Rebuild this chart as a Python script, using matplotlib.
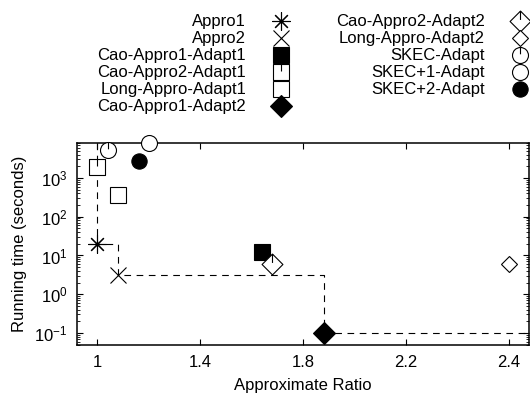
import numpy as np
import matplotlib
matplotlib.use("Agg")
import matplotlib.pyplot as plt
from matplotlib.path import Path
from matplotlib.ticker import LogLocator, NullFormatter, FixedLocator

plt.rcParams["font.family"] = ["Liberation Sans", "DejaVu Sans"]
plt.rcParams["mathtext.fontset"] = "custom"
plt.rcParams["mathtext.rm"] = "Liberation Sans"
plt.rcParams["mathtext.it"] = "Liberation Sans"
plt.rcParams["mathtext.default"] = "regular"

# ============================================================
# DATA (approximate ratio, running time in seconds)
# ============================================================
names = ["Appro1", "Appro2", "Cao-Appro1-Adapt1", "Cao-Appro2-Adapt1",
         "Long-Appro-Adapt1", "Cao-Appro1-Adapt2", "Cao-Appro2-Adapt2",
         "Long-Appro-Adapt2", "SKEC-Adapt", "SKEC+1-Adapt", "SKEC+2-Adapt"]
ratio = [1.00, 1.08, 1.64, 1.00, 1.08, 1.88, 1.68, 2.40, 1.043, 1.20, 1.163]
runtime = [20, 3.2, 12.5, 1900, 360, 0.1, 5.9, 6.2, 5300, 7900, 2750]

# pareto frontier (dashed staircase)
front_x = [1.00, 1.08, 1.88]
front_y = [20, 3.2, 0.1]

xticks = [1, 1.4, 1.8, 2.2, 2.4]

# ============================================================
# MARKERS
# ============================================================
def with_tick(base):
    v = list(base.vertices) + [(0, base.vertices[:, 1].max()), (0, 0.15 * base.vertices[:, 1].max())]
    c = list(base.codes) + [Path.MOVETO, Path.LINETO]
    return Path(v, c)

sq = Path([(-1, -1), (1, -1), (1, 1), (-1, 1), (-1, -1)],
          [Path.MOVETO, Path.LINETO, Path.LINETO, Path.LINETO, Path.CLOSEPOLY])
dm = Path([(0, -1), (1, 0), (0, 1), (-1, 0), (0, -1)],
          [Path.MOVETO, Path.LINETO, Path.LINETO, Path.LINETO, Path.CLOSEPOLY])
circ = Path.unit_circle()

styles = [
    dict(marker=(8, 2, 0), ms=13, mfc="black"),
    dict(marker="x", ms=12, mfc="black"),
    dict(marker="s", ms=11.5, mfc="black"),
    dict(marker=with_tick(sq), ms=11.5, mfc="white"),
    dict(marker="s", ms=11.5, mfc="white"),
    dict(marker="D", ms=11, mfc="black"),
    dict(marker=with_tick(dm), ms=15, mfc="white"),
    dict(marker="D", ms=8.5, mfc="white"),
    dict(marker=with_tick(circ), ms=11.5, mfc="white"),
    dict(marker="o", ms=11.5, mfc="white"),
    dict(marker="o", ms=11, mfc="black"),
]

# axis range
x_left, x_right = 0.922, 2.439
y_bottom, y_top = 0.049, 8000


def fwd(x):
    x = np.asarray(x, dtype=float)
    return np.where(x <= 2.2, x, 2.2 + (x - 2.2) * 2.0)


def inv(x):
    x = np.asarray(x, dtype=float)
    return np.where(x <= 2.2, x, 2.2 + (x - 2.2) / 2.0)


fig = plt.figure(figsize=(5.3, 3.96), dpi=100)
ax = fig.add_axes([0.1453, 0.1288, 0.8527, 0.5102])
ax.set_xscale("function", functions=(fwd, inv))
ax.set_yscale("log")

ax.plot(front_x[:1] + front_x + [x_right], [y_top] + front_y + front_y[-1:],
        drawstyle="steps-post", color="black", lw=0.8, dashes=(6, 5), zorder=1)

for n, x, y, st in zip(names, ratio, runtime, styles):
    ax.plot([x], [y], linestyle="none", marker=st["marker"], ms=st["ms"],
            mfc=st["mfc"], mec="black", mew=0.8, label=n, clip_on=False, zorder=3)

ax.set_xlim(x_left, x_right)
ax.set_ylim(y_bottom, y_top)
ax.xaxis.set_major_locator(FixedLocator(xticks))
ax.set_xticklabels([f"{t:g}" for t in xticks])
ax.yaxis.set_major_locator(LogLocator(base=10, numticks=10))
ax.yaxis.set_minor_locator(LogLocator(base=10, subs=np.arange(2, 10), numticks=10))
ax.yaxis.set_minor_formatter(NullFormatter())

ax.tick_params(which="both", direction="in", top=True, right=True, labelsize=12, color="black")
ax.tick_params(which="major", length=4.5, width=0.8, pad=7)
ax.tick_params(which="minor", length=2, width=0.6)
for s in ax.spines.values():
    s.set_linewidth(1.1)

ax.set_xlabel("Approximate Ratio", fontsize=12, labelpad=6)
ax.set_ylabel("Running time (seconds)", fontsize=12, labelpad=5)

fig.legend(loc="upper right", bbox_to_anchor=(1.003, 0.972), ncol=2, markerfirst=False,
           frameon=False, fontsize=12, handlelength=1.0, handletextpad=1.6,
           columnspacing=2.8, labelspacing=0.12, borderpad=0.2, borderaxespad=0)

fig.savefig("out.png", dpi=100)
